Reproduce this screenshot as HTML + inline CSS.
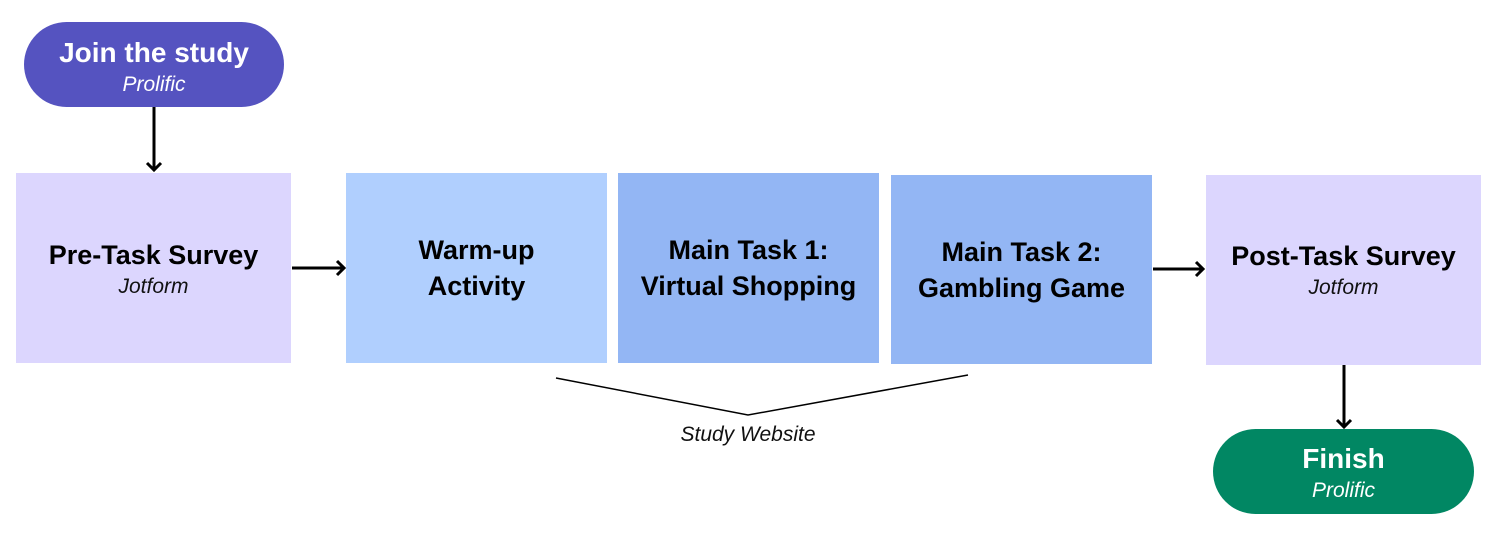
<!DOCTYPE html>
<html><head><style>
body{margin:0;width:1503px;height:539px;background:#fff;position:relative;overflow:hidden;font-family:"Liberation Sans",sans-serif}
.b{position:absolute;display:flex;flex-direction:column;align-items:center;justify-content:center;text-align:center;box-sizing:border-box}
.t{font-weight:bold;font-size:27px;line-height:36px;color:#000}
.s{font-style:italic;font-size:21px;line-height:28px;color:#111}
.w .t,.w .s{color:#fff}
.w .t{font-size:28px}
</style></head><body>
<div class="b w" style="left:24px;top:22px;width:260px;height:85px;background:#5553C0;border-radius:43px;padding-top:4px"><div class="t">Join the study</div><div class="s">Prolific</div></div>
<div class="b" style="left:16px;top:173px;width:275px;height:190px;background:#DCD6FE;padding-top:2px"><div class="t">Pre-Task Survey</div><div class="s">Jotform</div></div>
<div class="b" style="left:346px;top:173px;width:261px;height:190px;background:#B0CFFE"><div class="t">Warm-up<br>Activity</div></div>
<div class="b" style="left:618px;top:173px;width:261px;height:190px;background:#93B6F4"><div class="t">Main Task 1:<br>Virtual Shopping</div></div>
<div class="b" style="left:891px;top:175px;width:261px;height:189px;background:#93B6F4"><div class="t">Main Task 2:<br>Gambling Game</div></div>
<div class="b" style="left:1206px;top:175px;width:275px;height:190px;background:#DCD6FE;justify-content:flex-start;padding-top:63px"><div class="t">Post-Task Survey</div><div class="s">Jotform</div></div>
<div class="b w" style="left:1213px;top:429px;width:261px;height:85px;background:#018763;border-radius:43px;padding-top:2px"><div class="t">Finish</div><div class="s">Prolific</div></div>
<div style="position:absolute;left:598px;top:422px;width:300px;text-align:center;font-style:italic;font-size:21px;line-height:26px;color:#111">Study Website</div>
<svg width="1503" height="539" style="position:absolute;left:0;top:0" fill="none" stroke="#000" stroke-width="3">
<path d="M154 107V170M147 163L154 170L161 163"/>
<path d="M292 268H344M337 261L344 268L337 275"/>
<path d="M1153 269H1203M1196 262L1203 269L1196 276"/>
<path d="M1344 365V427M1337 420L1344 427L1351 420"/>
<path d="M556 378L748 415L968 375" stroke-width="1.5"/>
</svg>
</body></html>
